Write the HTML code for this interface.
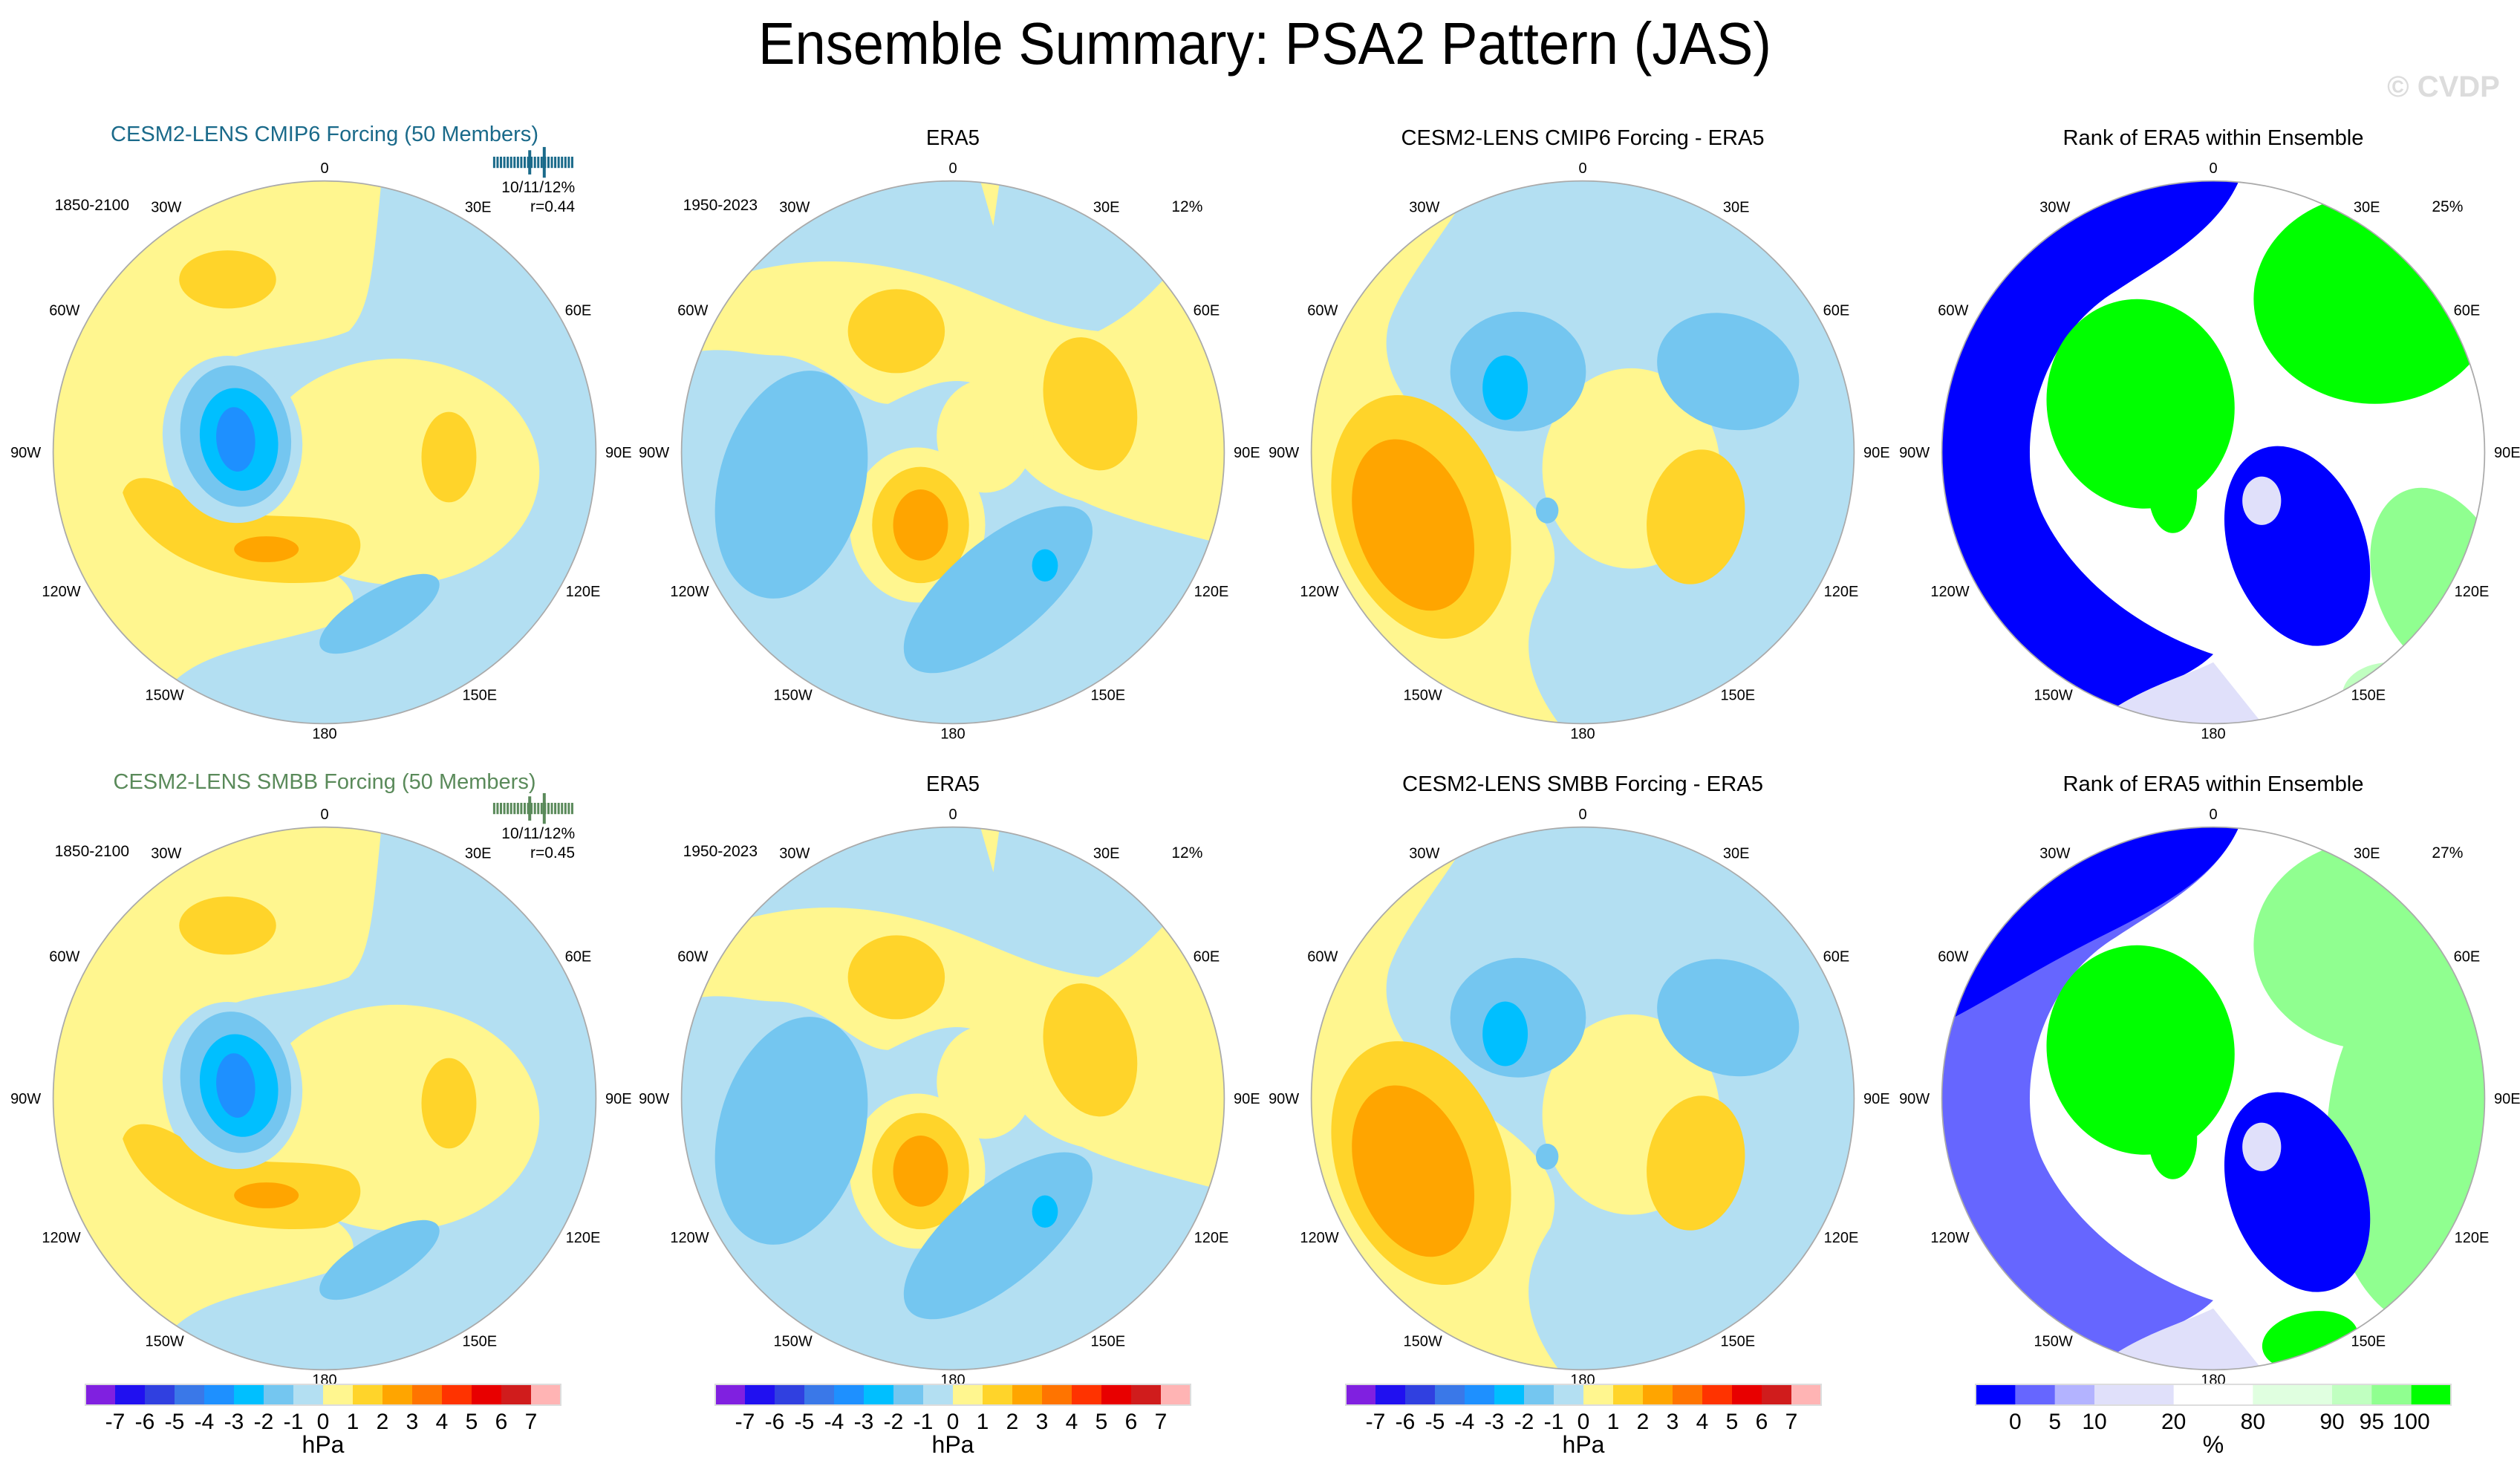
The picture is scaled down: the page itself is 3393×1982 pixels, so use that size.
<!DOCTYPE html>
<html><head><meta charset="utf-8"><style>
html,body{margin:0;padding:0;background:#fff}
svg{display:block}
text{font-family:"Liberation Sans",sans-serif}
</style></head><body>
<svg id="fig" width="3393" height="1982" viewBox="0 0 3393 1982" xmlns="http://www.w3.org/2000/svg">
<text x="1703" y="86" font-size="80" text-anchor="middle" textLength="1364" lengthAdjust="spacingAndGlyphs">Ensemble Summary: PSA2 Pattern (JAS)</text>
<text x="3290" y="130" font-size="40" font-weight="bold" fill="#dcdcdc" text-anchor="middle">© CVDP</text>
<g id="panels"></g>
<g id="bars"></g>
</svg>
<script>
// colorbar data
const hpaColors = ["#8020e0","#2010f0","#3040e0","#3a78e8","#1e90ff","#00bfff","#74c6f0","#b3dff2","#fff68f","#ffd42a","#ffa500","#ff7400","#ff3300","#e80000","#d01c1c","#ffb4b4"];
const hpaLabels = ["-7","-6","-5","-4","-3","-2","-1","0","1","2","3","4","5","6","7"];
const rankColors = ["#0000ff","#6666ff","#b3b3ff","#e0e0fa","#ffffff","#e0ffe0","#c0ffc0","#90ff90","#00ff00"];
const rankWidths = [1,1,1,2,2,2,1,1,1];
const rankLabels = ["0","5","10","20","80","90","95","100"];

const NS="http://www.w3.org/2000/svg";
function mk(tag,attrs,parent){const e=document.createElementNS(NS,tag);for(const k in attrs)e.setAttribute(k,attrs[k]);parent.appendChild(e);return e;}
const S=2.175;
const cxs=[437,1283,2131,2980], cys=[609,1479];
const LB="#b3dff2",Y="#fff68f",DY="#ffd42a",OR="#ffa500",MB="#74c6f0",SB="#00bfff",DB="#1e90ff";
const BL="#0000ff",BM="#6666ff",BLL="#b3b3ff",LAV="#e0e0fa",G="#00ff00",G2="#90ff90",G3="#c0ffc0",G4="#e0ffe0";
function E(cx,cy,rx,ry,fill,rot){return {t:'ellipse',a:{cx,cy,rx,ry,fill,transform:`rotate(${rot||0} ${cx} ${cy})`}};}
function P(d,fill){return {t:'path',a:{d,fill}};}
const shapesA=[
 P("M36,-175 C30,-120 30,-90 15,-75 C-20,-60 -80,-72 -97,-20 C-107,20 -80,52 -30,60 C10,70 30,90 10,105 C-30,120 -80,120 -100,150 L-100,180 L180,180 L180,-175 Z",LB),
 E(45,12,88,70,Y,0),
 E(-60,-107,30,18,DY),
 P("M-125,25 C-120,10 -100,15 -80,30 C-50,45 -10,35 15,45 C30,55 20,75 0,80 C-50,85 -110,70 -125,25 Z",DY),
 E(-36,60,20,8,OR),
 E(77,3,17,28,DY),
 E(-57,-8,43,52,LB,-10),
 E(-55,-10,34,44,MB,-10),
 E(-53,-8,24,32,SB,-10),
 E(-55,-8,12,20,DB,-5),
 E(34,100,42,15,MB,-30)];
const shapesB=[
 P("M-170,-95 C-100,-130 -40,-120 10,-100 C40,-88 60,-78 90,-75 C120,-90 130,-110 150,-125 L180,-100 L180,60 C140,50 100,40 80,30 C40,20 30,-10 20,-40 C0,-50 -20,-40 -40,-30 C-60,-30 -80,-60 -110,-60 C-130,-60 -150,-70 -180,-55 Z",Y),
 P("M15,-175 L30,-175 L25,-140 Z",Y),
 E(20,-10,30,35,Y),
 E(-22,45,42,48,Y),
 E(-20,45,30,36,DY),
 E(-20,45,17,22,OR),
 E(-35,-75,30,26,DY),
 E(85,-30,28,42,DY,-15),
 E(-100,20,45,72,MB,15),
 E(28,85,72,30,MB,-40),
 E(57,70,8,10,SB)];
const shapesC=[
 P("M-180,-180 L-60,-180 C-80,-140 -110,-110 -120,-80 C-130,-40 -90,-10 -60,10 C-30,30 -10,50 -20,80 C-40,110 -40,140 -5,180 L-180,180 Z",Y),
 E(30,10,55,62,Y),
 E(70,40,30,42,DY,10),
 E(-100,40,52,78,DY,-20),
 E(-105,45,35,55,OR,-20),
 E(-40,-50,42,37,MB),
 E(-48,-40,14,20,SB),
 E(90,-50,45,35,MB,20),
 E(-22,36,7,8,MB)];
function rankShapes(alt){return [
 P("M-180,-180 L20,-180 C10,-140 -30,-120 -60,-100 C-110,-70 -125,0 -105,40 C-85,80 -45,110 0,125 C-20,145 -60,150 -80,175 L-180,180 Z",alt?BM:BL),
 alt?P("M-180,-180 L20,-180 C10,-140 -30,-120 -70,-100 C-110,-80 -140,-60 -180,-40 Z",BL):P("M0,0 Z",BL),
 P("M-80,175 C-60,150 -20,140 0,130 L40,180 Z",LAV),
 E(100,-95,75,65,alt?G2:G),
 alt?E(130,30,60,110,G2):E(140,80,40,60,G2,-20),
 E(-45,-30,58,65,G,-10),
 E(-25,25,15,25,G),
 E(52,58,42,64,BL,-20),
 E(30,30,12,15,LAV),
 alt?E(60,150,30,18,G,-10):E(110,150,30,20,G3)];}
const panels=[
 {shapes:shapesA,bg:Y,row:0,col:0,title:"CESM2-LENS CMIP6 Forcing (50 Members)",tcol:"#1a6a8a",tw:576,period:"1850-2100",pct:null,stats:["10/11/12%","r=0.44"]},
 {shapes:shapesB,bg:LB,row:0,col:1,title:"ERA5",tcol:"#000",tw:72,period:"1950-2023",pct:"12%"},
 {shapes:shapesC,bg:LB,row:0,col:2,title:"CESM2-LENS CMIP6 Forcing - ERA5",tcol:"#000",tw:489,period:null,pct:null},
 {shapes:rankShapes(false),bg:"#fff",row:0,col:3,title:"Rank of ERA5 within Ensemble",tcol:"#000",tw:405,period:null,pct:"25%"},
 {shapes:shapesA,bg:Y,row:1,col:0,title:"CESM2-LENS SMBB Forcing (50 Members)",tcol:"#5a8a5a",tw:569,period:"1850-2100",pct:null,stats:["10/11/12%","r=0.45"]},
 {shapes:shapesB,bg:LB,row:1,col:1,title:"ERA5",tcol:"#000",tw:72,period:"1950-2023",pct:"12%"},
 {shapes:shapesC,bg:LB,row:1,col:2,title:"CESM2-LENS SMBB Forcing - ERA5",tcol:"#000",tw:486,period:null,pct:null},
 {shapes:rankShapes(true),bg:"#fff",row:1,col:3,title:"Rank of ERA5 within Ensemble",tcol:"#000",tw:405,period:null,pct:"27%"}];
const lonLabels=[["0",0,-176],["30E",95,-152],["60E",157,-88],["90E",182,0],["120E",160,86],["150E",96,150],["180",0,174],["150W",-99,150],["120W",-163,86],["90W",-185,0],["60W",-161,-88],["30W",-98,-152]];
const root=document.getElementById('panels');
panels.forEach((p,i)=>{
 const cx=cxs[p.col],cy=cys[p.row];
 const g=mk('g',{},root);
 
 
 const cp=mk('clipPath',{id:'cp'+i},g);
 mk('circle',{cx:0,cy:0,r:168},cp);
 const inner=mk('g',{transform:`translate(${cx},${cy}) scale(${S})`},g);
 const cl=mk('g',{'clip-path':`url(#cp${i})`},inner);
 mk('rect',{x:-180,y:-180,width:360,height:360,fill:p.bg},cl);
 p.shapes.forEach(s=>{const e=mk(s.t,s.a,cl);});
 const ring=mk('circle',{cx:0,cy:0,r:168,fill:'none',stroke:'#aaa','stroke-width':0.8},inner);
 
 
 const ty=p.row===0?(p.col===0?190:195):(p.col===0?1062:1065);
 const t=mk('text',{x:cx,y:ty,'font-size':29,'text-anchor':'middle',fill:p.tcol,textLength:p.tw,lengthAdjust:'spacingAndGlyphs'},g);
 t.textContent=p.title;
 
 
 lonLabels.forEach(l=>{const e=mk('text',{x:cx+l[1]*S,y:cy+l[2]*S+7,'font-size':20,'text-anchor':'middle'},g);e.textContent=l[0];});
 if(p.period){const e=mk('text',{x:cx-144*S,y:cy-150*S,'font-size':21,'text-anchor':'middle'},g);e.textContent=p.period;}
 if(p.pct){const e=mk('text',{x:cx+145*S,y:cy-149*S,'font-size':21,'text-anchor':'middle'},g);e.textContent=p.pct;}
 if(p.stats){
  const e1=mk('text',{x:cx+155*S,y:cy-161*S,'font-size':21,'text-anchor':'end'},g);e1.textContent=p.stats[0];
  const e2=mk('text',{x:cx+155*S,y:cy-149*S,'font-size':21,'text-anchor':'end'},g);e2.textContent=p.stats[1];
  const tb=mk('g',{stroke:p.tcol,'stroke-width':3},g);
  
  
  for(let k=0;k<24;k++){const x=cx+(105+k*2.1)*S;mk('line',{x1:x,x2:x,y1:cy-183*S,y2:cy-176*S},tb);}
  mk('line',{x1:cx+136*S,x2:cx+136*S,y1:cy-189*S,y2:cy-170*S,'stroke-width':4},tb);
  mk('line',{x1:cx+127*S,x2:cx+127*S,y1:cy-187*S,y2:cy-172*S,'stroke-width':4},tb);
 }
});
// colorbars
const bars=document.getElementById('bars');
const barX=[115,963,1812,2660], bw=640, by=1864, bh=28;
barX.forEach((x0,bi)=>{
 const g=mk('g',{},bars);
 
 
 if(bi<3){
  const w=bw/hpaColors.length;
  hpaColors.forEach((c,k)=>{const r=mk('rect',{x:x0+k*w,y:by,width:w+0.5,height:bh,fill:c},g);});
  hpaLabels.forEach((l,k)=>{const t=mk('text',{x:x0+(k+1)*w,y:by+60,'font-size':30,'text-anchor':'middle'},g);t.textContent=l;});
  const u=mk('text',{x:x0+bw/2,y:by+92,'font-size':32,'text-anchor':'middle'},g);u.textContent='hPa';
 } else {
  const tot=rankWidths.reduce((a,b)=>a+b,0),unit=bw/tot;let acc=0;
  rankColors.forEach((c,k)=>{const r=mk('rect',{x:x0+acc*unit,y:by,width:rankWidths[k]*unit+0.5,height:bh,fill:c},g);acc+=rankWidths[k];if(k<rankLabels.length){const t=mk('text',{x:x0+acc*unit,y:by+60,'font-size':30,'text-anchor':'middle'},g);t.textContent=rankLabels[k];}});
  const u=mk('text',{x:x0+bw/2,y:by+92,'font-size':32,'text-anchor':'middle'},g);u.textContent='%';
 }
 const fr=mk('rect',{x:x0,y:by,width:bw,height:bh,fill:'none',stroke:'#ddd','stroke-width':2},g);
 
 
});
</script>
</body></html>
